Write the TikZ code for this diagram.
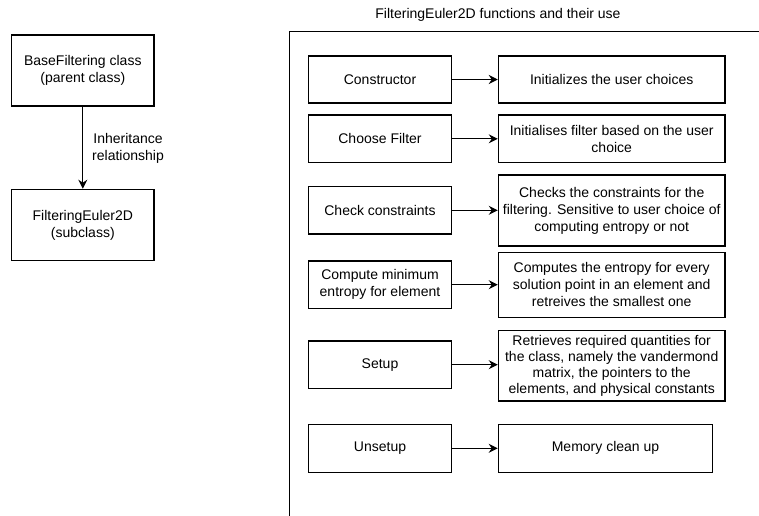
\documentclass[tikz,border=0pt]{standalone}
\usepackage{fontspec}
\setmainfont{Liberation Sans}
\usetikzlibrary{arrows.meta}
\begin{document}
\begin{tikzpicture}[x=1pt,y=-1pt,
  every node/.style={font=\fontsize{14}{17}\selectfont, align=center, inner sep=0pt},
  box/.style={draw, line width=1.2pt, minimum width=#1},
  leftbox/.style={box=143.4pt},
  rightbox/.style={box=226.7pt},
  link/.style={draw, line width=1.2pt, -{Stealth[length=9pt,width=9pt,inset=3pt]}}
]
\useasboundingbox (0,0) rectangle (759,515);

% container frame (runs past the page on the right and at the bottom)
\begin{scope}
  \clip (0,0) rectangle (759,515);
  \draw[line width=1.2pt] (289.5,540) -- (289.5,31.7) -- (790,31.7);
\end{scope}
\node (title) at (498,15) {FilteringEuler2D functions and their use};

% class hierarchy
\node[box=142.3pt, minimum height=71pt] (base) at (82.8,70.5) {BaseFiltering class\\(parent class)};
\node[box=142.3pt, minimum height=71.4pt] (sub) at (82.8,225) {FilteringEuler2D\\(subclass)};
\draw[link] (base) -- (sub);
\node (inh) at (128,148.3) {Inheritance\\relationship};

% functions
\node[leftbox, minimum height=47pt] (f1) at (380,79.5) {Constructor};
\node[rightbox, minimum height=47pt] (u1) at (611.7,79.5) {Initializes the user choices};

\node[leftbox, minimum height=47.7pt] (f2) at (380,138.8) {Choose Filter};
\node[rightbox, minimum height=47.7pt] (u2) at (611.7,138.8) {Initialises filter based on the user\\choice};

\node[leftbox, minimum height=47.3pt] (f3) at (380,210.3) {Check constraints};
\node[rightbox, minimum height=71pt] (u3) at (611.7,210.5) {Checks the constraints for the\\filtering. Sensitive to user choice of\\computing entropy or not};

\node[leftbox, minimum height=47.3pt] (f4) at (380,284.7) {Compute minimum\\entropy for element};
\node[rightbox, minimum height=65pt] (u4) at (611.7,284.8) {Computes the entropy for every\\solution point in an element and\\retreives the smallest one};

\node[leftbox, minimum height=47.3pt] (f5) at (380,364.7) {Setup};
\node[rightbox, minimum height=70.5pt, font=\fontsize{14}{16}\selectfont] (u5) at (611.7,365.7) {Retrieves required quantities for\\the class, namely the vandermond\\matrix, the pointers to the\\elements, and physical constants};

\node[leftbox, minimum height=48pt] (f6) at (380,448.3) {Unsetup};
\node[box=214.4pt, minimum height=48pt] (u6) at (605.5,448.3) {Memory clean up};

\foreach \i in {1,...,6}
  \draw[link] (f\i.east) -- (f\i.east -| u\i.west);
\end{tikzpicture}
\end{document}
